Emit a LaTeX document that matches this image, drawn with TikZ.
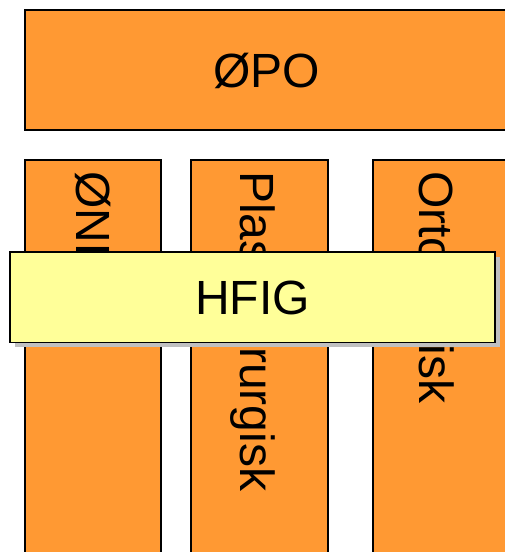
\documentclass[tikz,border=0pt]{standalone}
\usepackage{fontspec}
\setmainfont{Liberation Sans}
\definecolor{deptorange}{RGB}{255,153,51}
\definecolor{noteyellow}{RGB}{255,255,153}
\definecolor{shadowgray}{RGB}{192,192,192}
\begin{document}
\begin{tikzpicture}[x=1pt,y=-1pt,
  box/.style={draw=black,line width=1.3pt,fill=deptorange},
  overlay box/.style={draw=black,line width=1.3pt,fill=noteyellow},
  bigtext/.style={font=\fontsize{48}{52}\selectfont,inner sep=0pt},
  coltext/.style={bigtext,rotate=-90,anchor=base west}]
\useasboundingbox (0,0) rectangle (505,552);
\clip (0,0) rectangle (505,552);
% top-level unit
\draw[box] (25,10) rectangle (508,130);
\node[bigtext,anchor=base] (opo) at (266.5,87.5) {ØPO};
% department columns
\draw[box] (25,160) rectangle (161,560);
\draw[box] (191,160) rectangle (328,560);
\draw[box] (373,160) rectangle (510,560);
\node[coltext] (onh) at (76,171) {ØNH};
\node[coltext] (plast) at (240,171) {Plastikkirurgisk};
\node[coltext] (orto) at (419,171) {Ortopedisk};
% cross-cutting unit with drop shadow
\fill[shadowgray] (15,257) rectangle (499.5,347);
\draw[overlay box] (10,252) rectangle (495,342.5);
\node[bigtext,anchor=base] (hfig) at (252.5,314) {HFIG};
\end{tikzpicture}
\end{document}
